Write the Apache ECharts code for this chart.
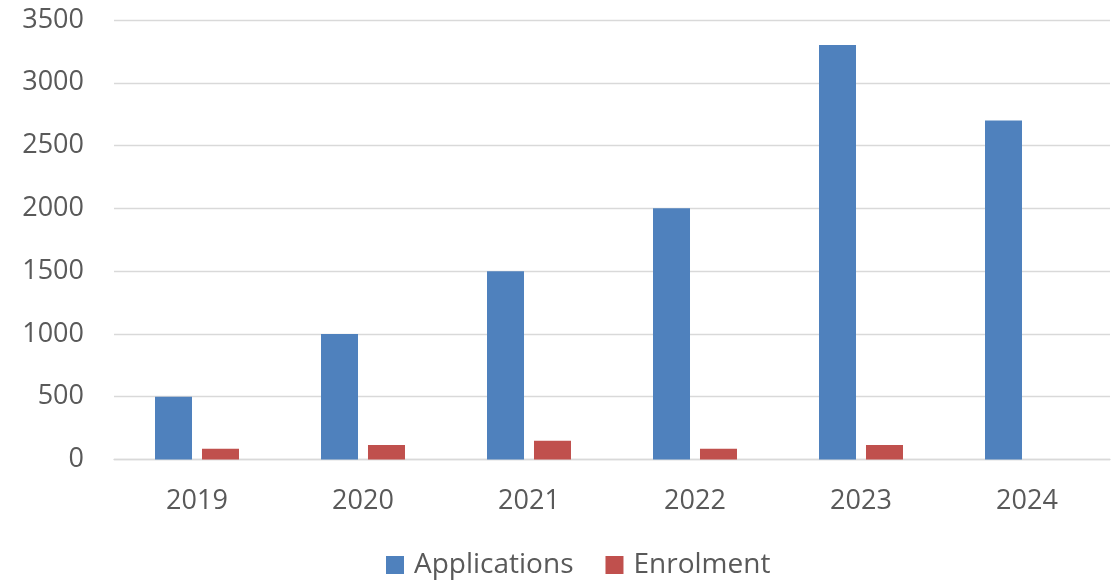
<!DOCTYPE html>
<html>
<head>
<meta charset="utf-8">
<script src="https://cdn.jsdelivr.net/npm/echarts@6/dist/echarts.min.js"></script>
<style>
  html, body { margin: 0; padding: 0; background: #fff; }
  #chart { width: 1119px; height: 580px; }
</style>
</head>
<body>
<div id="chart"></div>
<script>
// Yearly figures
const years = ['2019', '2020', '2021', '2022', '2023', '2024'];
const applications = [500, 1000, 1500, 2000, 3300, 2700];
const enrolment = [85, 115, 150, 85, 115, null];
const seriesNames = ['Applications', 'Enrolment'];

const FONT = '"Open Sans", "Noto Sans", sans-serif';
const TEXT_COLOR = '#595959';
const GRID_COLOR = '#d9d9d9';

const chart = echarts.init(document.getElementById('chart'), null, { renderer: 'canvas' });

chart.setOption({
  animation: false,
  backgroundColor: '#ffffff',
  grid: { left: 114, right: 9, top: 20, bottom: 120.5, containLabel: false },
  legend: {
    data: seriesNames,
    left: 381,
    top: 546,
    itemWidth: 18,
    itemHeight: 18,
    itemGap: 32,
    icon: 'rect',
    textStyle: { fontFamily: FONT, fontSize: 28, color: TEXT_COLOR, padding: [0, 0, 0, 5] }
  },
  xAxis: {
    type: 'category',
    data: years,
    axisLine: { show: true, lineStyle: { color: GRID_COLOR, width: 1.3 } },
    axisTick: { show: false },
    axisLabel: { fontFamily: FONT, fontSize: 27, color: TEXT_COLOR, margin: 28 }
  },
  yAxis: {
    type: 'value',
    min: 0,
    max: 3500,
    interval: 500,
    axisLine: { show: false },
    axisTick: { show: false },
    axisLabel: {
      fontFamily: FONT, fontSize: 27, color: TEXT_COLOR, margin: 30,
      formatter: (v) => String(v)
    },
    splitLine: { lineStyle: { color: GRID_COLOR, width: 1.3 } }
  },
  series: [
    {
      name: seriesNames[0],
      type: 'bar',
      data: applications,
      barWidth: 37,
      barGap: '27%',
      itemStyle: { color: '#4f81bd' }
    },
    {
      name: seriesNames[1],
      type: 'bar',
      data: enrolment,
      barWidth: 37,
      itemStyle: { color: '#c0504d' }
    }
  ]
});
</script>
</body>
</html>
